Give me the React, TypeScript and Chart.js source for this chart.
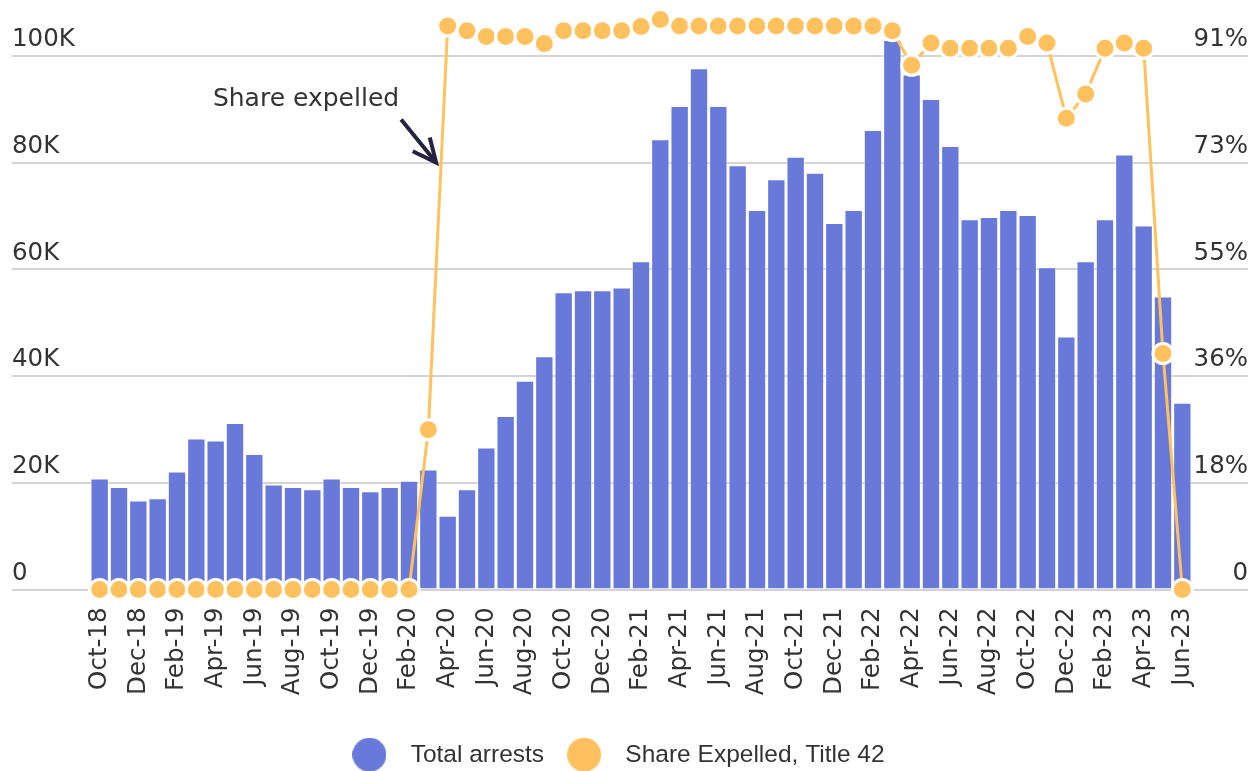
import React, { useEffect, useRef } from "react";
import { Chart, registerables } from "chart.js";

Chart.register(...registerables);

const MONTHS = [
  "Oct-18", "Nov-18", "Dec-18", "Jan-19", "Feb-19", "Mar-19", "Apr-19", "May-19", "Jun-19", "Jul-19", "Aug-19", "Sep-19",
  "Oct-19", "Nov-19", "Dec-19", "Jan-20", "Feb-20", "Mar-20", "Apr-20", "May-20", "Jun-20", "Jul-20", "Aug-20", "Sep-20",
  "Oct-20", "Nov-20", "Dec-20", "Jan-21", "Feb-21", "Mar-21", "Apr-21", "May-21", "Jun-21", "Jul-21", "Aug-21", "Sep-21",
  "Oct-21", "Nov-21", "Dec-21", "Jan-22", "Feb-22", "Mar-22", "Apr-22", "May-22", "Jun-22", "Jul-22", "Aug-22", "Sep-22",
  "Oct-22", "Nov-22", "Dec-22", "Jan-23", "Feb-23", "Mar-23", "Apr-23", "May-23", "Jun-23",
];

const TOTAL_ARRESTS = [
  20800, 19200, 16700, 17100, 22100, 28300, 27900, 31200, 25400, 19700, 19200, 18800,
  20800, 19200, 18400, 19200, 20400, 22500, 13800, 18800, 26600, 32500, 39100, 43700,
  55700, 56100, 56100, 56600, 61500, 84400, 90600, 97700, 90600, 79500, 71100, 76900,
  81100, 78100, 68700, 71100, 86100, 103000, 96500, 91900, 83100, 69400, 69800, 71100,
  70200, 60400, 47400, 61500, 69400, 81500, 68200, 54900, 35000,
];

const SHARE_EXPELLED = [
  0, 0, 0, 0, 0, 0, 0, 0, 0, 0, 0, 0,
  0, 0, 0, 0, 0, 0.272, 0.96, 0.952, 0.942, 0.942, 0.942, 0.93,
  0.952, 0.952, 0.952, 0.952, 0.959, 0.971, 0.96, 0.96, 0.96, 0.96, 0.96, 0.96,
  0.96, 0.96, 0.96, 0.96, 0.96, 0.952, 0.893, 0.931, 0.922, 0.922, 0.922, 0.922,
  0.942, 0.931, 0.803, 0.844, 0.922, 0.931, 0.922, 0.402, 0,
];

const SERIES_LABELS = ["Total arrests", "Share Expelled, Title 42"];
const Y_TICKS = [0, 20000, 40000, 60000, 80000, 100000];
const Y_MAX = 108600;
const FULL_SHARE_AT = 110000; // left-axis value that lines up with 100 %
const ANNOTATION_TEXT = "Share expelled";
const ANNOTATION_LEVEL = 80000;
const ANNOTATION_FROM = 17;

const BAR_COLOR = "#6879da";
const DOT_COLOR = "#ffc15e";
const TEXT_COLOR = "#333333";
const GRID_COLOR = "#d4d4d4";
const ARROW_COLOR = "#25233f";
const AXIS_FONT = { family: "'DejaVu Sans', sans-serif", size: 24.5 };
const NOTE_FONT_SIZE = 25;
const LEGEND_FONT = { family: "'Liberation Sans', Arial, sans-serif", size: 24.5 };

function makeDot(color: string) {
  const c = document.createElement("canvas");
  c.width = 34;
  c.height = 34;
  const g = c.getContext("2d")!;
  g.fillStyle = color;
  g.beginPath();
  g.arc(17, 17, 17, 0, Math.PI * 2);
  g.fill();
  return c;
}

const annotationPlugin = {
  id: "shareAnnotation",
  afterDatasetsDraw(chart: any) {
    const { ctx } = chart;
    const xs = chart.scales.x;
    const ys = chart.scales.y;
    const y1 = chart.scales.y1;
    const tipY = ys.getPixelForValue(ANNOTATION_LEVEL);
    const x0 = xs.getPixelForValue(ANNOTATION_FROM);
    const x1 = xs.getPixelForValue(ANNOTATION_FROM + 1);
    const p0 = y1.getPixelForValue(SHARE_EXPELLED[ANNOTATION_FROM]);
    const p1 = y1.getPixelForValue(SHARE_EXPELLED[ANNOTATION_FROM + 1]);
    const lineX = x0 + ((x1 - x0) * (p0 - tipY)) / (p0 - p1);
    const tipX = lineX - 5;
    const sx = tipX - 35;
    const sy = tipY - 43;
    const ang = Math.atan2(tipY - sy, tipX - sx);
    const L = 26;
    const spread = (25 * Math.PI) / 180;
    ctx.save();
    ctx.strokeStyle = ARROW_COLOR;
    ctx.lineWidth = 4;
    ctx.lineCap = "butt";
    ctx.lineJoin = "miter";
    ctx.beginPath();
    ctx.moveTo(sx, sy);
    ctx.lineTo(tipX, tipY);
    ctx.stroke();
    ctx.beginPath();
    ctx.moveTo(tipX - L * Math.cos(ang - spread), tipY - L * Math.sin(ang - spread));
    ctx.lineTo(tipX, tipY);
    ctx.lineTo(tipX - L * Math.cos(ang + spread), tipY - L * Math.sin(ang + spread));
    ctx.stroke();
    ctx.fillStyle = TEXT_COLOR;
    ctx.font = `${NOTE_FONT_SIZE}px ${AXIS_FONT.family}`;
    ctx.textAlign = "right";
    ctx.textBaseline = "alphabetic";
    ctx.fillText(ANNOTATION_TEXT, sx - 2, sy - 14);
    ctx.restore();
  },
};

const legendShiftPlugin = {
  id: "legendShift",
  afterLayout(chart: any) {
    const l = chart.legend;
    if (l) {
      l.left -= 17.5;
      l.right -= 17.5;
    }
  },
};

export default function App() {
  const ref = useRef<HTMLCanvasElement>(null);

  useEffect(() => {
    const legendColors = [BAR_COLOR, DOT_COLOR];
    const chart = new Chart(ref.current!, {
      type: "bar",
      data: {
        labels: MONTHS,
        datasets: [
          {
            type: "bar",
            label: SERIES_LABELS[0],
            data: TOTAL_ARRESTS,
            yAxisID: "y",
            backgroundColor: BAR_COLOR,
            borderColor: "rgba(255,255,255,0.55)",
            borderWidth: 1,
            barPercentage: 0.95,
            categoryPercentage: 1,
            order: 2,
          } as any,
          {
            type: "line",
            label: SERIES_LABELS[1],
            data: SHARE_EXPELLED,
            yAxisID: "y1",
            borderColor: DOT_COLOR,
            borderWidth: 3,
            pointRadius: 10,
            pointHoverRadius: 10,
            pointBackgroundColor: DOT_COLOR,
            pointBorderColor: "#ffffff",
            pointBorderWidth: 3,
            tension: 0,
            clip: false,
            order: 1,
          } as any,
        ],
      },
      options: {
        responsive: true,
        maintainAspectRatio: false,
        animation: false,
        layout: { autoPadding: false, padding: { left: 4, right: 2, top: 2, bottom: 0 } },
        plugins: {
          tooltip: { enabled: false },
          legend: {
            position: "bottom",
            labels: {
              usePointStyle: true,
              pointStyleWidth: 58,
              padding: 11,
              color: TEXT_COLOR,
              font: LEGEND_FONT,
              generateLabels: (c: any) =>
                c.data.datasets.map((ds: any, i: number) => ({
                  text: ds.label,
                  fillStyle: legendColors[i],
                  strokeStyle: "transparent",
                  lineWidth: 0,
                  hidden: false,
                  datasetIndex: i,
                  fontColor: TEXT_COLOR,
                  pointStyle: makeDot(legendColors[i]),
                })),
            },
          },
        },
        scales: {
          x: {
            offset: true,
            grid: { display: false },
            border: { display: false },
            afterFit: (s: any) => {
              s.height = 142;
              s.paddingLeft = 0;
              s.paddingRight = 0;
            },
            ticks: {
              autoSkip: false,
              minRotation: 90,
              maxRotation: 90,
              padding: 10,
              color: TEXT_COLOR,
              font: AXIS_FONT,
              callback: (_v: any, i: number) => (i % 2 === 0 ? MONTHS[i] : ""),
            },
          },
          y: {
            position: "left",
            min: 0,
            max: Y_MAX,
            afterBuildTicks: (s: any) => {
              s.ticks = Y_TICKS.map((v) => ({ value: v }));
            },
            afterFit: (s: any) => {
              s.width = 78;
              s.paddingTop = 0;
              s.paddingBottom = 0;
            },
            grid: { color: GRID_COLOR, lineWidth: 2, drawTicks: true, tickLength: 78 },
            border: { display: false },
            ticks: {
              crossAlign: "far",
              padding: 0,
              labelOffset: -16,
              color: TEXT_COLOR,
              font: AXIS_FONT,
              callback: (v: any) => (Number(v) === 0 ? "0" : `${Number(v) / 1000}K`),
            },
          },
          y1: {
            position: "right",
            min: 0,
            max: Y_MAX / FULL_SHARE_AT,
            afterBuildTicks: (s: any) => {
              s.ticks = Y_TICKS.map((v) => ({ value: v / FULL_SHARE_AT }));
            },
            afterFit: (s: any) => {
              s.width = 56;
              s.paddingTop = 0;
              s.paddingBottom = 0;
            },
            grid: { color: GRID_COLOR, lineWidth: 2, drawOnChartArea: false, drawTicks: true, tickLength: 56 },
            border: { display: false },
            ticks: {
              crossAlign: "far",
              padding: 0,
              labelOffset: -16,
              color: TEXT_COLOR,
              font: AXIS_FONT,
              callback: (v: any) => (Number(v) === 0 ? "0" : `${Math.round(Number(v) * 100)}%`),
            },
          },
        },
      } as any,
      plugins: [annotationPlugin, legendShiftPlugin],
    });
    return () => chart.destroy();
  }, []);

  return (
    <div style={{ position: "fixed", left: 0, top: 0, width: "100vw", height: "100vh", overflow: "hidden" }}>
      <div style={{ position: "absolute", left: 8, top: 8, width: 1242, height: 769 }}>
        <canvas ref={ref} />
      </div>
    </div>
  );
}
